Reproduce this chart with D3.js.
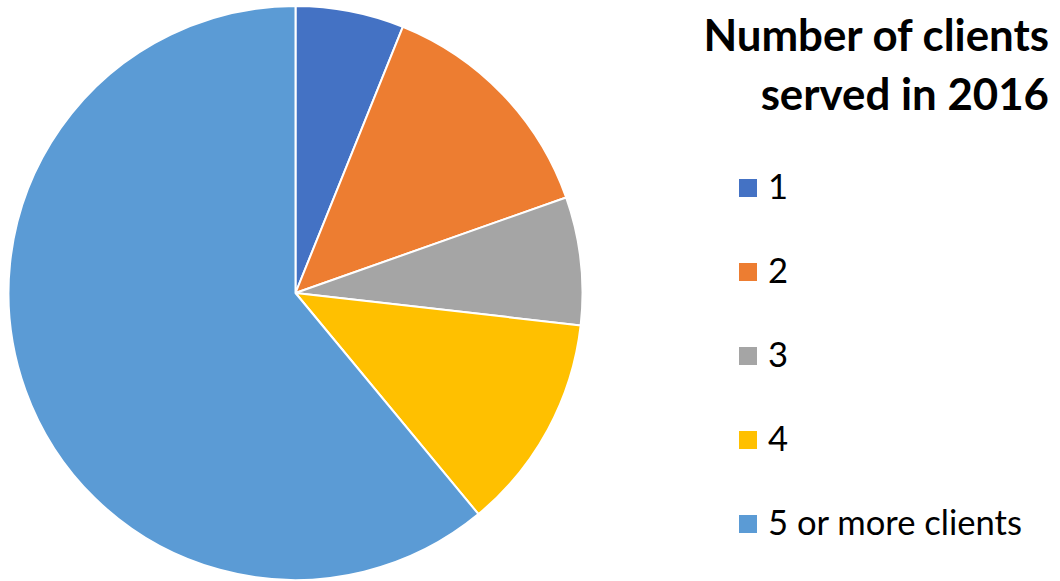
<!DOCTYPE html>
<html>
<head>
<meta charset="utf-8">
<script src="https://cdn.jsdelivr.net/npm/d3@7"></script>
<style>
  html, body { margin: 0; padding: 0; background: #fff; }
  svg { display: block; }
</style>
</head>
<body>
<svg id="chart" width="1060" height="581"></svg>
<script>
// Share of providers by number of clients served in 2016 (percent)
const categories = ["1", "2", "3", "4", "5 or more clients"];
const shares = [6.1, 13.5, 7.2, 12.2, 61.0];
const colors = ["#4472C4", "#ED7D31", "#A5A5A5", "#FFC000", "#5B9BD5"];
const titleLines = ["Number of clients", "served in 2016"];

const svg = d3.select("#chart");
const font = "Lato, 'Carlito', Calibri, sans-serif";

// Pie
const cx = 295.5, cy = 293, radius = 287;
const pie = d3.pie().sort(null).value(d => d)(shares);
const arc = d3.arc().innerRadius(0).outerRadius(radius);
const color = d3.scaleOrdinal().domain(categories).range(colors);

svg.append("g")
  .attr("transform", `translate(${cx},${cy})`)
  .selectAll("path")
  .data(pie)
  .join("path")
  .attr("d", arc)
  .attr("fill", (d, i) => color(categories[i]))
  .attr("stroke", "#fff")
  .attr("stroke-width", 2)
  .attr("stroke-linejoin", "round");

// Legend title
svg.append("g")
  .selectAll("text")
  .data(titleLines)
  .join("text")
  .attr("x", 1049)
  .attr("y", (d, i) => 51 + i * 59)
  .attr("text-anchor", "end")
  .attr("font-family", font)
  .attr("font-weight", "bold")
  .attr("font-size", 43.8)
  .attr("fill", "#000")
  .text(d => d);

// Legend entries
const legend = svg.append("g")
  .selectAll("g")
  .data(categories)
  .join("g")
  .attr("transform", (d, i) => `translate(739,${179 + i * 84})`);

legend.append("rect")
  .attr("width", 18)
  .attr("height", 18)
  .attr("fill", d => color(d));

legend.append("text")
  .attr("x", 29)
  .attr("y", 20)
  .attr("font-family", font)
  .attr("font-size", 34.6)
  .attr("fill", "#000")
  .text(d => d);
</script>
</body>
</html>
